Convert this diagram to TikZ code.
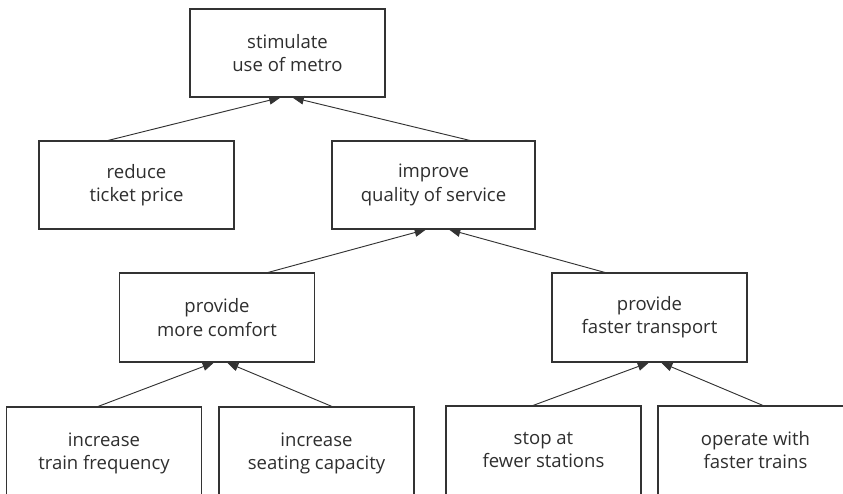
\documentclass[tikz,border=0pt]{standalone}
\usepackage{fontspec}
\setmainfont{Open Sans}
\usetikzlibrary{arrows.meta}
\newdimen\px \px=0.75pt
\definecolor{ink}{HTML}{2E2E2E}
\definecolor{edge}{HTML}{333333}
\tikzset{
  box/.style={draw=edge, line width=0.8pt, rectangle, inner sep=0pt, align=center,
    text=ink, font=\fontsize{13.9pt}{17.4pt}\selectfont,
    minimum width=195\px, minimum height=88\px},
  cutbox/.style={box, minimum height=96\px},
  link/.style={draw=edge, line width=0.7pt, -{Triangle[length=8.5pt,width=6.4pt]}}
}
\begin{document}
\begin{tikzpicture}[x=0.75pt,y=-0.75pt]
\useasboundingbox (0,0) rectangle (843,493);
\clip (0,0) rectangle (843,493);
\node[box] (top) at (287.5,53) {stimulate\\use of metro};
\node[box] (reduce) at (136.5,185) {reduce\\ticket price};
\node[box, minimum width=203\px] (improve) at (433.5,185) {improve\\quality of service};
\node[box, minimum height=89\px] (comfort) at (217,317.5) {provide\\more comfort};
\node[box, minimum height=89\px] (faster) at (649.5,317.5) {provide\\faster transport};
\node[cutbox, text depth=8\px] (freq) at (104,455) {increase\\train frequency};
\node[cutbox, text depth=8\px] (seat) at (316.5,455) {increase\\seating capacity};
\node[cutbox, text depth=8\px] (stop) at (543.5,454) {stop at\\fewer stations};
\node[cutbox, text depth=8\px] (oper) at (755.5,454) {operate with\\faster trains};
\draw[link] ([xshift=-28.5\px]reduce.north) -- ([xshift=-7\px]top.south);
\draw[link] ([xshift=36.5\px]improve.north) -- ([xshift=5\px]top.south);
\draw[link] ([xshift=51\px]comfort.north) -- ([xshift=-7.5\px]improve.south);
\draw[link] ([xshift=-44.5\px]faster.north) -- ([xshift=15.5\px]improve.south);
\draw[link] ([xshift=-6\px]freq.north) -- ([xshift=-3\px]comfort.south);
\draw[link] ([xshift=15.5\px]seat.north) -- ([xshift=10\px]comfort.south);
\draw[link] ([xshift=-10.5\px]stop.north) -- ([xshift=-0.5\px]faster.south);
\draw[link] ([xshift=7.5\px]oper.north) -- ([xshift=11.5\px]faster.south);
\end{tikzpicture}
\end{document}
